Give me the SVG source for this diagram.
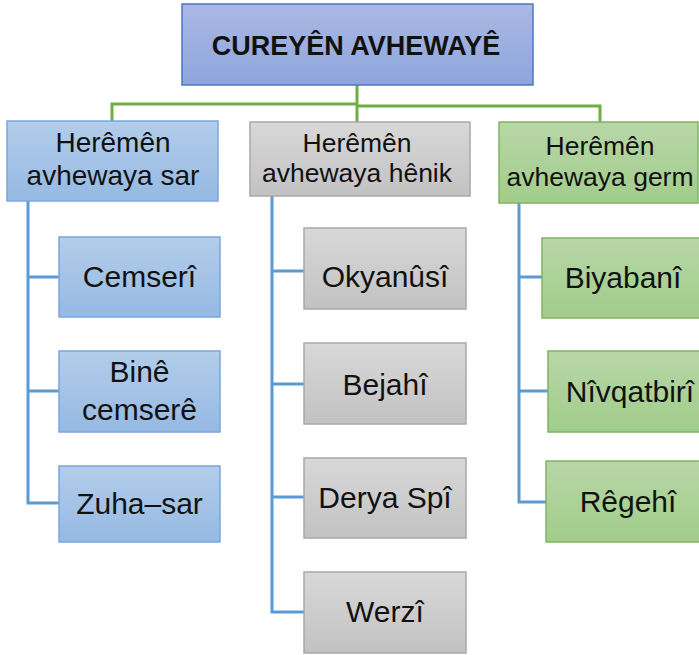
<svg xmlns="http://www.w3.org/2000/svg" width="699" height="655" viewBox="0 0 699 655">
<defs>
<linearGradient id="gTop" x1="0" y1="0" x2="0" y2="1"><stop offset="0" stop-color="#aab9e4"/><stop offset="1" stop-color="#8ea5dc"/></linearGradient>
<linearGradient id="gBlue" x1="0" y1="0" x2="0" y2="1"><stop offset="0" stop-color="#b3cdea"/><stop offset="1" stop-color="#95b9e3"/></linearGradient>
<linearGradient id="gGray" x1="0" y1="0" x2="0" y2="1"><stop offset="0" stop-color="#d8d8d8"/><stop offset="1" stop-color="#c2c2c2"/></linearGradient>
<linearGradient id="gGreen" x1="0" y1="0" x2="0" y2="1"><stop offset="0" stop-color="#b8d7a8"/><stop offset="1" stop-color="#a1cc8a"/></linearGradient>
</defs>
<style>
.top{fill:url(#gTop);stroke:#4f76c8;stroke-width:1.5}
.blue{fill:url(#gBlue);stroke:#7aa7dc;stroke-width:1.5}
.gray{fill:url(#gGray);stroke:#a8a8a8;stroke-width:1.5}
.green{fill:url(#gGreen);stroke:#80b463;stroke-width:1.5}
text{font-family:"Liberation Sans",Arial,sans-serif;fill:#111;text-anchor:middle}
.t0{font-size:27px;font-weight:bold}
.t1{font-size:26.5px}
.t1l{font-size:28px}
.t2{font-size:30px}
.cg{stroke:#70ad47;stroke-width:3;fill:none}
.cb{stroke:#5b9bd5;stroke-width:3;fill:none}
</style>
<g id="connectors">
<path class="cg" d="M357 85V122M112 121V104H357M357 106H600V123"/>
<path class="cb" d="M28 201V503H59M28 277H59M28 391H59"/>
<path class="cb" d="M272 196V612H304M272 271H304M272 384H304M272 497H304"/>
<path class="cb" d="M519 203V502H546M519 277H542M519 391H548"/>
</g>
<g id="root"><rect class="top" x="182" y="4" width="351" height="81"/><text class="t0" x="356" y="55">CUREYÊN AVHEWAYÊ</text></g>
<g id="sar"><rect class="blue" x="7" y="121" width="211" height="80"/><text class="t1l" x="113" y="152">Herêmên</text><text class="t1l" x="113" y="185">avhewaya sar</text></g>
<g id="henik"><rect class="gray" x="250" y="122" width="220" height="74"/><text class="t1" x="357" y="152">Herêmên</text><text class="t1" x="357" y="182">avhewaya hênik</text></g>
<g id="germ"><rect class="green" x="499" y="122" width="199" height="81"/><text class="t1" x="600" y="155">Herêmên</text><text class="t1" x="600" y="186">avhewaya germ</text></g>
<g id="cemseri"><rect class="blue" x="59" y="237" width="161" height="80"/><text class="t2" x="139.5" y="287">Cemserî</text></g>
<g id="bine"><rect class="blue" x="59" y="351" width="161" height="81"/><text class="t2" x="139.5" y="382">Binê</text><text class="t2" x="139.5" y="420">cemserê</text></g>
<g id="zuha"><rect class="blue" x="59" y="466" width="161" height="76"/><text class="t2" x="139.5" y="514">Zuha–sar</text></g>
<g id="okyanusi"><rect class="gray" x="304" y="228" width="162" height="81"/><text class="t2" x="385" y="287">Okyanûsî</text></g>
<g id="bejahi"><rect class="gray" x="304" y="343" width="162" height="81"/><text class="t2" x="385" y="395">Bejahî</text></g>
<g id="derya"><rect class="gray" x="304" y="458" width="162" height="80"/><text class="t2" x="385" y="508">Derya Spî</text></g>
<g id="werzi"><rect class="gray" x="304" y="572" width="162" height="81"/><text class="t2" x="385" y="622">Werzî</text></g>
<g id="biyabani"><rect class="green" x="542" y="238" width="164" height="80"/><text class="t2" x="623" y="288">Biyabanî</text></g>
<g id="nivqatbiri"><rect class="green" x="548" y="351" width="164" height="81"/><text class="t2" x="630" y="402">Nîvqatbirî</text></g>
<g id="regehi"><rect class="green" x="546" y="461" width="164" height="81"/><text class="t2" x="628" y="512">Rêgehî</text></g>
</svg>
